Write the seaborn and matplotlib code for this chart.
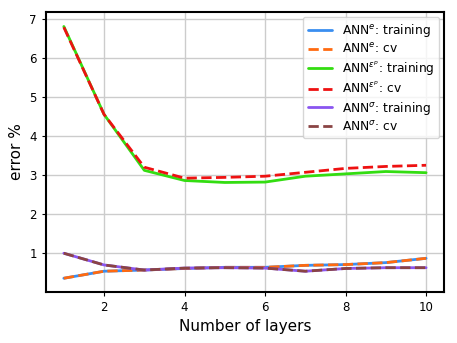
import matplotlib
matplotlib.use("Agg")
import matplotlib.pyplot as plt
import seaborn as sns
import pandas as pd

layers = [1, 2, 3, 4, 5, 6, 7, 8, 9, 10]
e_train = [0.36, 0.54, 0.57, 0.61, 0.64, 0.64, 0.69, 0.71, 0.76, 0.87]
e_cv = [0.36, 0.54, 0.57, 0.61, 0.64, 0.64, 0.69, 0.71, 0.76, 0.87]
ep_train = [6.80, 4.55, 3.12, 2.86, 2.81, 2.82, 2.97, 3.03, 3.09, 3.06]
ep_cv = [6.78, 4.55, 3.20, 2.92, 2.94, 2.97, 3.07, 3.17, 3.22, 3.25]
s_train = [1.00, 0.70, 0.57, 0.62, 0.63, 0.62, 0.54, 0.61, 0.63, 0.63]
s_cv = [1.00, 0.70, 0.57, 0.62, 0.63, 0.62, 0.54, 0.61, 0.63, 0.63]

series = [
    (r"ANN$^{e}$: training", e_train, "#3a8ef0", "-"),
    (r"ANN$^{e}$: cv", e_cv, "#ff6a10", "--"),
    (r"ANN$^{\varepsilon^p}$: training", ep_train, "#33dd11", "-"),
    (r"ANN$^{\varepsilon^p}$: cv", ep_cv, "#ee1111", "--"),
    (r"ANN$^{\sigma}$: training", s_train, "#8a55f0", "-"),
    (r"ANN$^{\sigma}$: cv", s_cv, "#8a4444", "--"),
]

sns.set_style("whitegrid")
plt.rcParams['font.family'] = ['DejaVu Sans']
plt.rcParams['text.color'] = 'black'
plt.rcParams['axes.labelcolor'] = 'black'
plt.rcParams['xtick.color'] = 'black'
plt.rcParams['ytick.color'] = 'black'

fig, ax = plt.subplots(figsize=(4.57, 3.43), dpi=100)
for label, vals, color, ls in series:
    df = pd.DataFrame({"layers": layers, "err": vals})
    sns.lineplot(data=df, x="layers", y="err", ax=ax, color=color,
                 linestyle=ls, linewidth=2, label=label)

ax.set_xlim(0.55, 10.45)
ax.set_ylim(0.02, 7.17)
ax.set_xticks([2, 4, 6, 8, 10])
ax.set_yticks([1, 2, 3, 4, 5, 6, 7])
ax.tick_params(labelsize=8.5, length=3, left=True, bottom=True, color="black",
               labelcolor="black")
ax.set_xlabel("Number of layers", fontsize=11, color="black")
ax.set_ylabel("error %", fontsize=11, color="black")
ax.grid(True, color="#cccccc", linewidth=1)
for sp in ax.spines.values():
    sp.set_color("black")
    sp.set_linewidth(1.5)
leg = ax.legend(loc="upper right", fontsize=8.8, frameon=True, handlelength=2.0,
                labelspacing=0.25, borderaxespad=0.4)
for t in leg.get_texts():
    t.set_color("black")
leg.get_frame().set_edgecolor("#cccccc")
fig.subplots_adjust(left=0.1, right=0.972, top=0.965, bottom=0.15)
fig.savefig("out.png", dpi=100)
